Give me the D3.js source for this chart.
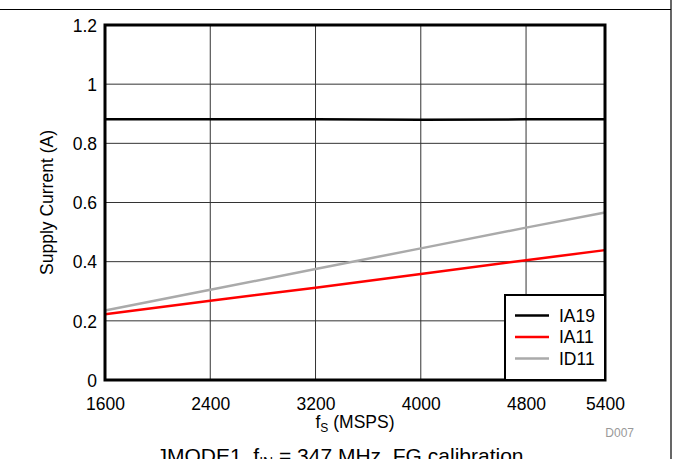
<!DOCTYPE html>
<html>
<head>
<meta charset="utf-8">
<script src="https://cdn.jsdelivr.net/npm/d3@7"></script>
<style>
  body { margin: 0; background: #fff; }
  svg { display: block; font-family: "Liberation Sans", Arial, sans-serif; }
</style>
</head>
<body>
<svg id="chart" width="673" height="459"></svg>
<script>
// values
var fs = [1600, 2400, 3200, 4000, 4800, 5400];
var ia19 = [0.881, 0.881, 0.881, 0.880, 0.881, 0.881];
var ia11 = [0.222, 0.268, 0.312, 0.358, 0.405, 0.439];
var id11 = [0.235, 0.305, 0.375, 0.445, 0.515, 0.566];
var xTicks = [1600, 2400, 3200, 4000, 4800, 5400];
var yTicks = [0, 0.2, 0.4, 0.6, 0.8, 1, 1.2];
var seriesNames = ["IA19", "IA11", "ID11"];
var seriesColors = ["#000000", "#ff0000", "#aaaaaa"];

var svg = d3.select("#chart");
var W = 673, H = 459;
var pL = 105, pR = 605, pT = 25, pB = 380;
var fontSize = 17.5;

var x = d3.scaleLinear().domain([1600, 5400]).range([pL, pR]);
var y = d3.scaleLinear().domain([0, 1.2]).range([pB, pT]);

// page frame lines
svg.append("line").attr("x1", 0).attr("x2", 671).attr("y1", 9.5).attr("y2", 9.5)
  .attr("stroke", "#000").attr("stroke-width", 1.2);
svg.append("line").attr("x1", 671).attr("x2", 671).attr("y1", 0).attr("y2", H)
  .attr("stroke", "#000").attr("stroke-width", 1.2);

// grid
var grid = svg.append("g").attr("class", "grid");
grid.selectAll(".gx").data(xTicks.slice(1, -1)).enter().append("line")
  .attr("x1", d => x(d)).attr("x2", d => x(d))
  .attr("y1", pT).attr("y2", pB)
  .attr("stroke", "#333").attr("stroke-width", 1);
grid.selectAll(".gy").data(yTicks.slice(1, -1)).enter().append("line")
  .attr("x1", pL).attr("x2", pR)
  .attr("y1", d => y(d)).attr("y2", d => y(d))
  .attr("stroke", "#333").attr("stroke-width", 1);

// axes
var xAxis = svg.append("g")
  .attr("transform", "translate(0," + pB + ")")
  .call(d3.axisBottom(x).tickValues(xTicks).tickSize(0).tickPadding(18).tickFormat(d3.format("d")));
var yAxis = svg.append("g")
  .attr("transform", "translate(" + pL + ",0)")
  .call(d3.axisLeft(y).tickValues(yTicks).tickSize(0).tickPadding(8).tickFormat(d => d3.format("")(d)));
[xAxis, yAxis].forEach(function (a) {
  a.select(".domain").remove();
  a.selectAll("text").attr("font-size", fontSize).attr("fill", "#000")
    .attr("font-family", "Liberation Sans, Arial, sans-serif");
});
yAxis.selectAll("text").attr("dy", "0.36em");

// series lines
var line = d3.line().x((d, i) => x(fs[i])).y(d => y(d));
var series = [ia19, ia11, id11];
svg.append("g").selectAll("path").data([id11, ia11, ia19]).enter().append("path")
  .attr("d", line)
  .attr("fill", "none")
  .attr("stroke", d => seriesColors[series.indexOf(d)])
  .attr("stroke-width", 2.5);

// plot frame
svg.append("rect")
  .attr("x", pL).attr("y", pT)
  .attr("width", pR - pL).attr("height", pB - pT)
  .attr("fill", "none").attr("stroke", "#000").attr("stroke-width", 3);

// legend
var lg = svg.append("g").attr("transform", "translate(505,295)");
lg.append("rect").attr("x", 0).attr("y", 0).attr("width", pR - 505).attr("height", pB - 295)
  .attr("fill", "#fff").attr("stroke", "#000").attr("stroke-width", 2);
var rows = lg.selectAll(".row").data(seriesNames).enter().append("g")
  .attr("transform", (d, i) => "translate(0," + (20.5 + i * 21.5) + ")");
rows.append("line").attr("x1", 10).attr("x2", 44).attr("y1", 0).attr("y2", 0)
  .attr("stroke", (d, i) => seriesColors[i]).attr("stroke-width", 2.5);
rows.append("text").attr("x", 54).attr("y", 0).attr("dy", "0.36em")
  .attr("font-size", fontSize).text(d => d);

// axis titles
var xt = svg.append("text").attr("x", (pL + pR) / 2).attr("y", 428)
  .attr("text-anchor", "middle").attr("font-size", fontSize);
xt.append("tspan").text("f");
xt.append("tspan").attr("font-size", 12).attr("dy", 4).text("S");
xt.append("tspan").attr("dy", -4).text(" (MSPS)");

svg.append("text")
  .attr("transform", "translate(53," + ((pT + pB) / 2) + ") rotate(-90)")
  .attr("text-anchor", "middle").attr("font-size", fontSize)
  .text("Supply Current (A)");

svg.append("text").attr("x", 634).attr("y", 437).attr("text-anchor", "end")
  .attr("font-size", 12).attr("fill", "#999").text("D007");

var tt = svg.append("text").attr("x", 340).attr("y", 463)
  .attr("text-anchor", "middle").attr("font-size", 21);
tt.append("tspan").text("JMODE1, f");
tt.append("tspan").attr("font-size", 14).attr("dy", 4).text("IN");
tt.append("tspan").attr("dy", -4).text(" = 347 MHz, FG calibration");
</script>
</body>
</html>
